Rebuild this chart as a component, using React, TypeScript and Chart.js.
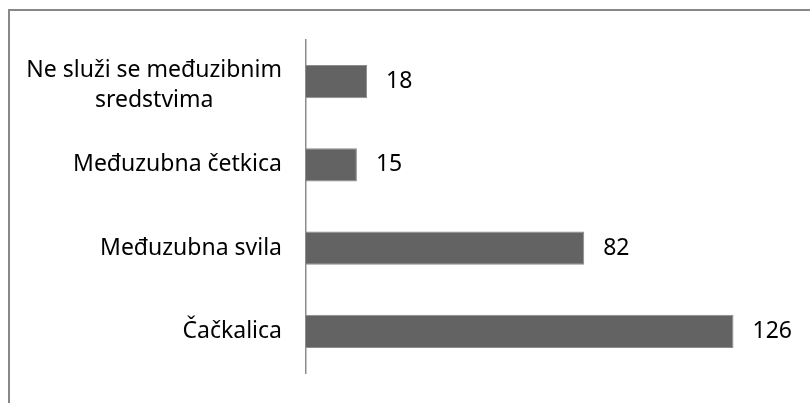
import React, { useEffect, useRef } from "react";
import { Chart, registerables } from "chart.js";

Chart.register(...registerables);

const categories: (string | string[])[] = [
  ["Ne služi se međuzibnim", "sredstvima"],
  "Međuzubna četkica",
  "Međuzubna svila",
  "Čačkalica",
];
const values: number[] = [18, 15, 82, 126];
const axisMin = 0;
const axisMax = 140;

const FONT = '23px "Noto Sans"';

const framePlugin = {
  id: "frame",
  beforeDraw(chart: any) {
    const ctx = chart.ctx;
    ctx.save();
    ctx.strokeStyle = "#888888";
    ctx.lineWidth = 2;
    ctx.beginPath();
    ctx.moveTo(9, chart.height);
    ctx.lineTo(9, 10);
    ctx.lineTo(chart.width, 10);
    ctx.stroke();
    ctx.restore();
  },
};

const labelPlugin = {
  id: "labels",
  afterDraw(chart: any) {
    const ctx = chart.ctx;
    const y = chart.scales.y;
    const x = chart.scales.x;
    ctx.save();
    ctx.font = FONT;
    ctx.fillStyle = "#000000";
    ctx.textBaseline = "middle";
    const right = chart.chartArea.left - 24;
    const lineH = 30;
    categories.forEach((lab, i) => {
      const cy = y.getPixelForValue(i);
      const lines = Array.isArray(lab) ? lab : [lab];
      const maxW = Math.max(...lines.map((l) => ctx.measureText(l).width));
      const startY = cy - ((lines.length - 1) * lineH) / 2 + (lines.length > 1 ? 4 : 0);
      ctx.textAlign = "center";
      lines.forEach((l, k) => {
        ctx.fillText(l, right - maxW / 2, startY + k * lineH);
      });
    });
    ctx.textAlign = "left";
    values.forEach((v, i) => {
      const cy = y.getPixelForValue(i);
      const px = x.getPixelForValue(v);
      ctx.fillText(String(v), px + 19, cy);
    });
    ctx.restore();
  },
};

export default function App() {
  const ref = useRef<HTMLCanvasElement>(null);
  useEffect(() => {
    const chart = new Chart(ref.current as HTMLCanvasElement, {
      type: "bar",
      data: {
        labels: categories as any,
        datasets: [
          {
            data: values,
            backgroundColor: "#636363",
            borderColor: "#8c8c8c",
            borderWidth: 1,
            barPercentage: 0.4,
            categoryPercentage: 1,
          },
        ],
      },
      options: {
        indexAxis: "y",
        animation: false,
        responsive: false,
        maintainAspectRatio: false,
        layout: { padding: { top: 40, bottom: 30, right: 29, left: 0 } },
        plugins: { legend: { display: false }, tooltip: { enabled: false } },
        scales: {
          x: { display: false, min: axisMin, max: axisMax },
          y: {
            grid: { display: false },
            ticks: { display: false },
            border: { display: true, color: "#8c8c8c", width: 1.5 },
            afterFit: (s: any) => {
              s.width = 306;
            },
          },
        },
      },
      plugins: [framePlugin, labelPlugin],
    });
    return () => chart.destroy();
  }, []);
  return (
    <div style={{ position: "fixed", left: 0, top: 0, width: 810, height: 403, background: "#fff" }}>
      <canvas ref={ref} width={810} height={403} />
    </div>
  );
}
